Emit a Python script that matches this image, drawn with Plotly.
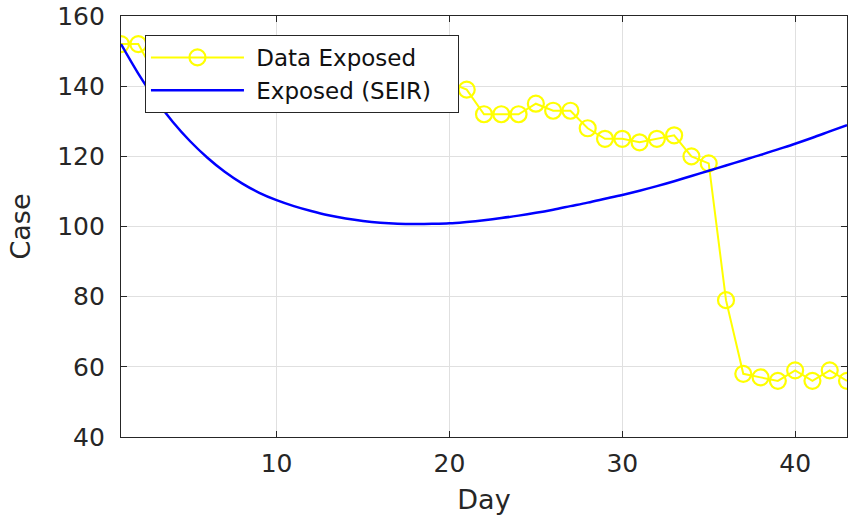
import plotly.graph_objects as go

# Observed data (Day 1..43)
days = list(range(1, 44))
data_exposed = [152, 152, 143, 139, 137, 138, 140, 141, 143, 144,
                145, 146, 148, 152, 148, 146, 145, 144, 143, 141,
                139, 132, 132, 132, 135, 133, 133, 128, 125, 125,
                124, 125, 126, 120, 118, 79, 58, 57, 56, 59,
                56, 59, 56]

# SEIR model exposed curve
seir_exposed = [152.0, 143.6, 136.2, 129.8, 124.3, 119.6, 115.6, 112.3, 109.6, 107.5,
                105.8, 104.4, 103.2, 102.3, 101.6, 101.1, 100.8, 100.7, 100.75, 100.9,
                101.3, 101.8, 102.4, 103.1, 103.9, 104.8, 105.8, 106.8, 107.9, 109.0,
                110.2, 111.5, 112.9, 114.4, 115.9, 117.4, 118.9, 120.4, 122.0, 123.6,
                125.3, 127.1, 128.9]

x_ticks = [10, 20, 30, 40]
y_ticks = [40, 60, 80, 100, 120, 140, 160]

FONT = "DejaVu Sans"
AX = "#262626"
GRID = "#e0e0e0"
NB = "\u00a0"

fig = go.Figure()
fig.add_trace(go.Scatter(
    x=days, y=data_exposed, mode="lines+markers", name=NB + "Data Exposed",
    line=dict(color="#ffff00", width=2),
    marker=dict(symbol="circle-open", size=16, color="#ffff00",
                line=dict(color="#ffff00", width=2.2)),
    cliponaxis=True,
))
fig.add_trace(go.Scatter(
    x=days, y=seir_exposed, mode="lines", name=NB + "Exposed (SEIR)" + NB * 3,
    line=dict(color="#0000ff", width=2.5, shape="spline", smoothing=1.0),
))

fig.update_layout(
    width=849, height=519,
    margin=dict(l=121, r=2, t=16, b=82),
    paper_bgcolor="white", plot_bgcolor="white",
    font=dict(family=FONT, color=AX),
    legend=dict(
        x=0.033, y=0.955, xanchor="left", yanchor="top",
        bgcolor="white", bordercolor=AX, borderwidth=1,
        font=dict(family=FONT, size=23, color="#111111"),
        itemwidth=93, tracegroupgap=0,
    ),
    showlegend=True,
)
fig.update_xaxes(
    range=[1, 43], tickvals=x_ticks, ticks="inside", ticklen=6, tickcolor=AX,
    showline=True, linecolor=AX, linewidth=1.3, mirror="ticks",
    showgrid=True, gridcolor=GRID, gridwidth=1, zeroline=False,
    tickfont=dict(family=FONT, size=25, color=AX), ticklabelstandoff=4,
    title=dict(text="Day", font=dict(family=FONT, size=27, color=AX), standoff=12),
)
fig.update_yaxes(
    range=[40, 160], tickvals=y_ticks, ticks="inside", ticklen=6, tickcolor=AX,
    showline=True, linecolor=AX, linewidth=1.3, mirror="ticks",
    showgrid=True, gridcolor=GRID, gridwidth=1, zeroline=False,
    tickfont=dict(family=FONT, size=25, color=AX), ticklabelstandoff=10,
    title=dict(text="Case", font=dict(family=FONT, size=27, color=AX), standoff=18),
)

fig.write_html("out.html")
